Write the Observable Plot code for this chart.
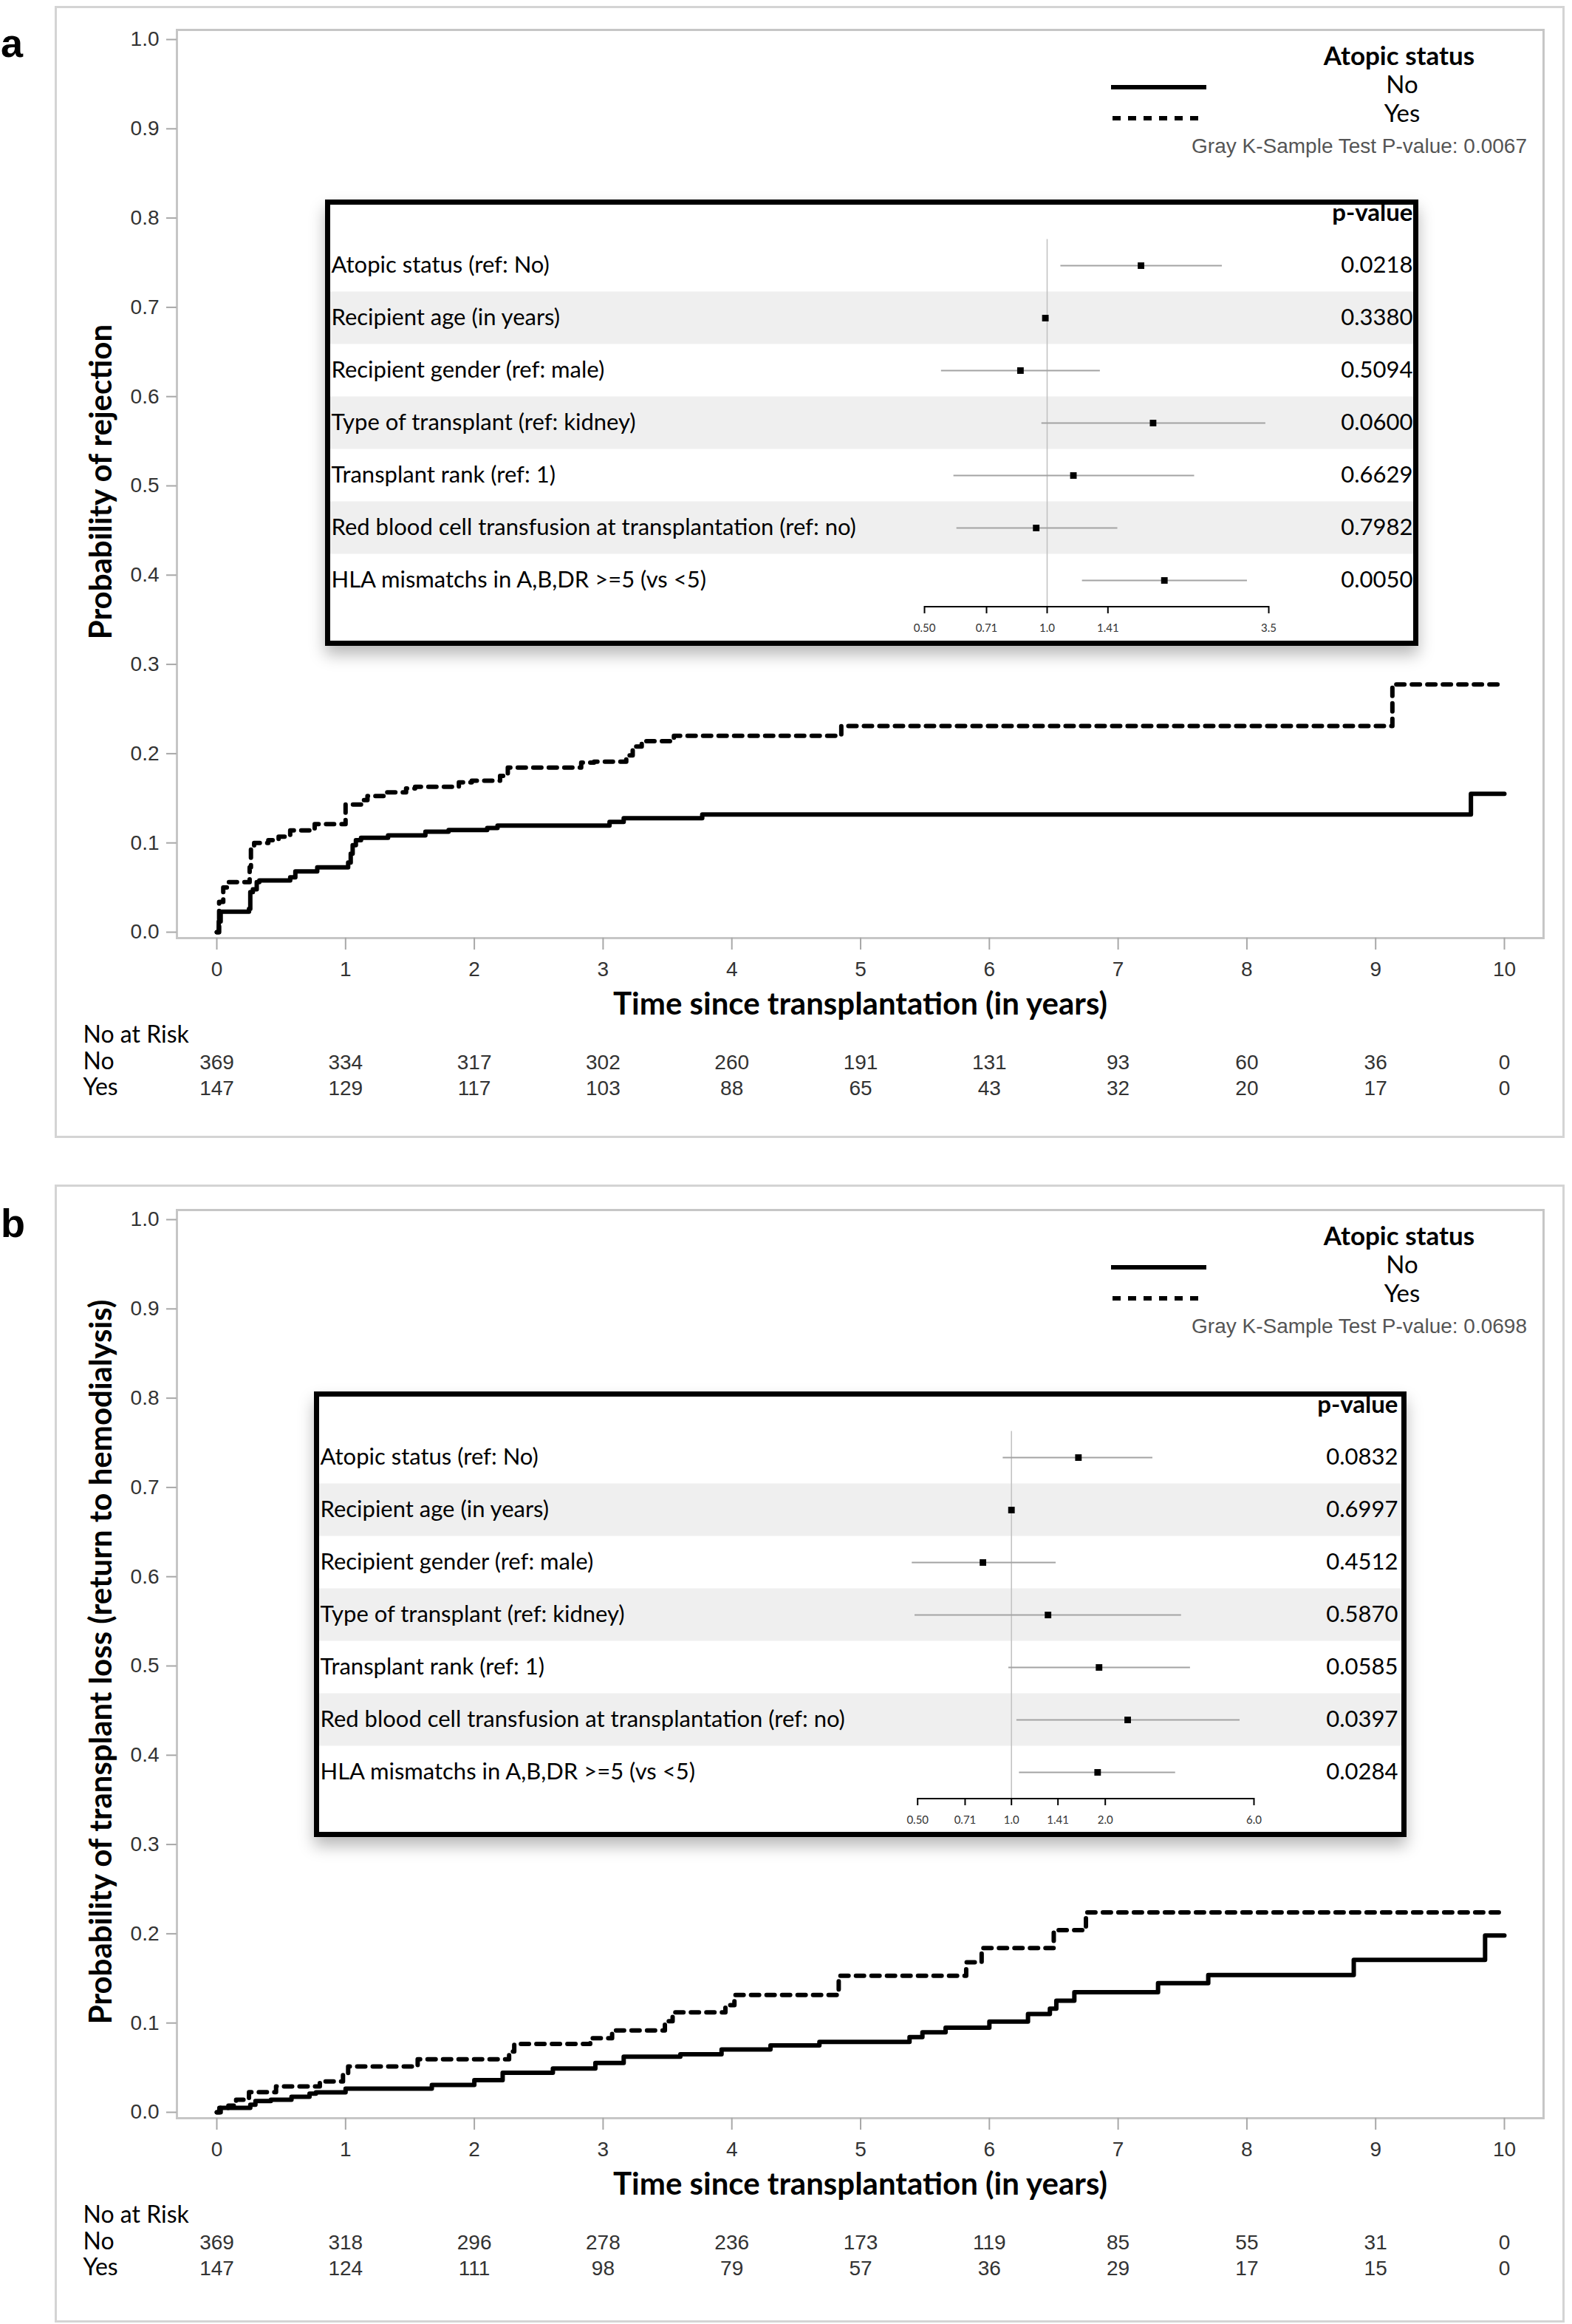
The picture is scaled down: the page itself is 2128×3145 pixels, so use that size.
<!DOCTYPE html>
<html><head><meta charset="utf-8">
<script src="https://cdn.jsdelivr.net/npm/d3@7"></script>
<script src="https://cdn.jsdelivr.net/npm/@observablehq/plot@0.6"></script>
<style>
html,body{margin:0;padding:0;background:#fff;}
#root{position:relative;width:2128px;height:3145px;overflow:hidden;background:#fff;}
.abs{position:absolute;}
</style></head><body><div id="root"></div>
<script>
// ---------- data ----------
const years = [0,1,2,3,4,5,6,7,8,9,10];
const probTicks = [0,0.1,0.2,0.3,0.4,0.5,0.6,0.7,0.8,0.9,1.0];
const groups = ["No","Yes"];
const xTitle = "Time since transplantation (in years)";
const legendTitle = "Atopic status";
const riskTitle = "No at Risk";

// panel a: rejection
const aYTitle = "Probability of rejection";
const aTest = "Gray K-Sample Test P-value: 0.0067";
const aNoT = [0,0.015,0.03,0.25,0.26,0.28,0.31,0.33,0.57,0.61,0.78,1.02,1.04,1.055,1.08,1.12,1.33,1.62,1.8,2.1,2.18,3.05,3.16,3.77,9.74,10.0];
const aNoP = [0,0.012,0.023,0.026,0.045,0.048,0.056,0.058,0.0615,0.068,0.0726,0.078,0.088,0.0975,0.103,0.1057,0.1085,0.1126,0.1145,0.1167,0.1195,0.1236,0.1277,0.1319,0.155,0.155];
const aYesT = [0,0.018,0.05,0.09,0.255,0.265,0.29,0.4,0.48,0.57,0.76,1.0,1.12,1.17,1.32,1.47,1.54,1.88,1.98,2.2,2.26,2.83,2.93,3.18,3.23,3.3,3.55,4.85,9.13,10.0];
const aYesP = [0,0.034,0.05,0.056,0.0726,0.0946,0.1,0.103,0.107,0.114,0.121,0.143,0.148,0.1526,0.1567,0.161,0.1628,0.1678,0.1697,0.175,0.1843,0.19,0.191,0.198,0.208,0.214,0.22,0.231,0.2776,0.2776];
const aRiskNo = [369,334,317,302,260,191,131,93,60,36,0];
const aRiskYes = [147,129,117,103,88,65,43,32,20,17,0];

// panel b: transplant loss
const bYTitle = "Probability of transplant loss (return to hemodialysis)";
const bTest = "Gray K-Sample Test P-value: 0.0698";
const bNoT = [0,0.03,0.26,0.3,0.42,0.58,0.72,0.77,1.0,1.67,2.0,2.22,2.61,2.94,3.16,3.6,3.92,4.3,4.68,5.38,5.48,5.66,6.0,6.3,6.47,6.52,6.66,7.31,7.7,8.83,9.85,10.0];
const bNoP = [0,0.005,0.0085,0.0127,0.014,0.0174,0.021,0.0224,0.0265,0.0307,0.036,0.0443,0.049,0.0553,0.0622,0.065,0.0704,0.075,0.0788,0.0842,0.0896,0.0947,0.1016,0.11,0.116,0.125,0.1345,0.1447,0.1538,0.1708,0.198,0.198];
const bYesT = [0,0.02,0.09,0.15,0.25,0.46,0.8,0.98,1.02,1.56,2.27,2.31,2.9,3.07,3.48,3.54,3.95,4.02,4.83,5.82,5.94,6.5,6.75,10.0];
const bYesP = [0,0.005,0.0075,0.014,0.0225,0.029,0.0346,0.043,0.0513,0.0594,0.068,0.0765,0.0829,0.0916,0.102,0.112,0.12,0.1315,0.153,0.168,0.184,0.204,0.224,0.224];
const bRiskNo = [369,318,296,278,236,173,119,85,55,31,0];
const bRiskYes = [147,124,111,98,79,57,36,29,17,15,0];

// forest plots
const covariates = [
  "Atopic status (ref: No)",
  "Recipient age (in years)",
  "Recipient gender (ref: male)",
  "Type of transplant (ref: kidney)",
  "Transplant rank (ref: 1)",
  "Red blood cell transfusion at transplantation (ref: no)",
  "HLA mismatchs in A,B,DR >=5 (vs <5)"
];
const pHeader = "p-value";
const aHR = [1.70,0.99,0.86,1.82,1.16,0.94,1.94];
const aLo = [1.08,0.98,0.55,0.97,0.59,0.60,1.22];
const aHi = [2.69,1.01,1.35,3.44,2.30,1.49,3.10];
const aPval = ["0.0218","0.3380","0.5094","0.0600","0.6629","0.7982","0.0050"];
const aHrTicks = [0.5,0.71,1.0,1.41,3.5];
const aHrTickLabels = ["0.50","0.71","1.0","1.41","3.5"];
const bHR = [1.64,1.00,0.81,1.31,1.91,2.36,1.89];
const bLo = [0.94,0.99,0.48,0.49,0.98,1.04,1.06];
const bHi = [2.84,1.01,1.39,3.51,3.75,5.41,3.36];
const bPval = ["0.0832","0.6997","0.4512","0.5870","0.0585","0.0397","0.0284"];
const bHrTicks = [0.5,0.71,1.0,1.41,2.0,6.0];
const bHrTickLabels = ["0.50","0.71","1.0","1.41","2.0","6.0"];

// ---------- drawing ----------
const ARIAL = "'Liberation Sans', Arial, Helvetica, sans-serif";
const CAL = "Lato, 'Open Sans', sans-serif";
const root = document.getElementById("root");

function km(cfg) {
  const rows = (T, P) => T.map((t, i) => ({t, p: P[i]}));
  const risk = arr => years.map((t, i) => ({t, n: String(arr[i])}));
  const lbl = {fontFamily: CAL, fill: "#000", frameAnchor: "bottom-left", textAnchor: "start", dx: -127, fontSize: 32, text: d => d};
  return Plot.plot({
    width: 2128, height: 1548,
    marginLeft: 239, marginRight: 39, marginTop: 40, marginBottom: 279,
    x: {domain: [0, 10], range: [293, 2036], label: null},
    y: {domain: [0, 1], range: [1261, 53], label: null},
    style: {background: "transparent", fontFamily: ARIAL, overflow: "visible"},
    marks: [
      Plot.frame({stroke: "#c6c6c6", strokeWidth: 3}),
      Plot.axisY({ticks: probTicks, tickFormat: d3.format(".1f"), tickSize: 14, tickPadding: 10, fontSize: 28, stroke: "#a8a8a8", strokeWidth: 2, fill: "#333", label: null}),
      Plot.axisX({ticks: years, tickFormat: d3.format("d"), tickSize: 16, tickPadding: 16, fontSize: 28, stroke: "#a8a8a8", strokeWidth: 2, fill: "#333", label: null}),
      Plot.line(rows(cfg.noT, cfg.noP), {x: "t", y: "p", curve: "step-after", stroke: "#000", strokeWidth: 6}),
      Plot.line(rows(cfg.yesT, cfg.yesP), {x: "t", y: "p", curve: "step-after", stroke: "#000", strokeWidth: 6, strokeDasharray: "11,10"}),
      Plot.text([xTitle], {text: d => d, frameAnchor: "bottom", textAnchor: "middle", dy: 103, fontFamily: CAL, fontWeight: "bold", fontSize: 42, fill: "#000"}),
      Plot.text([cfg.yTitle], {text: d => d, frameAnchor: "left", textAnchor: "middle", rotate: -90, dx: -102, dy: -3, fontFamily: CAL, fontWeight: "bold", fontSize: 42, fill: "#000"}),
      Plot.text([riskTitle], {...lbl, dy: 141}),
      Plot.text([groups[0]], {...lbl, dy: 177}),
      Plot.text([groups[1]], {...lbl, dy: 212}),
      Plot.text(risk(cfg.riskNo), {x: "t", text: "n", frameAnchor: "bottom", dy: 177, fontSize: 28, fill: "#333"}),
      Plot.text(risk(cfg.riskYes), {x: "t", text: "n", frameAnchor: "bottom", dy: 212, fontSize: 28, fill: "#333"})
    ]
  });
}

function forest(cfg) {
  const rows = covariates.map((label, i) => ({i, label, hr: cfg.hr[i], lo: cfg.lo[i], hi: cfg.hi[i], p: cfg.pval[i]}));
  const T = cfg.ticks, L = cfg.tickLabels;
  const W = cfg.box.w, H = cfg.box.h;
  const px = v => cfg.c + cfg.u * Math.log2(v);
  return Plot.plot({
    width: W, height: H,
    marginLeft: 7, marginRight: 7, marginTop: 7, marginBottom: H - 550,
    x: {type: "log", domain: [T[0], T[T.length - 1]], range: [px(T[0]), px(T[T.length - 1])], label: null},
    y: {domain: [-0.5, 6.5], range: [53.5, 550.5], axis: null, label: null},
    style: {background: "transparent", fontFamily: CAL, overflow: "visible"},
    marks: [
      Plot.rect(rows.filter(d => d.i % 2 === 1), {y1: d => d.i - 0.5, y2: d => d.i + 0.5, fill: "#efefef"}),
      Plot.ruleX([1], {y1: -0.5, y2: 6.5, stroke: "#c0c0c0", strokeWidth: 1.5}),
      Plot.ruleY(rows, {y: "i", x1: "lo", x2: "hi", stroke: "#a3a3a3", strokeWidth: 2}),
      Plot.dot(rows, {x: "hr", y: "i", symbol: "square", r: 5, fill: "#000", stroke: "none"}),
      Plot.text(rows, {y: "i", text: "label", frameAnchor: "left", textAnchor: "start", dx: 1, fontSize: 31, fill: "#000"}),
      Plot.text(rows, {y: "i", text: "p", frameAnchor: "right", textAnchor: "end", dx: cfg.pdx, fontSize: 31, fill: "#000"}),
      Plot.text([pHeader], {y: () => -1, text: d => d, frameAnchor: "right", textAnchor: "end", dx: cfg.pdx, fontSize: 33, fontWeight: "bold", fill: "#000"}),
      Plot.ruleY([6.5], {x1: T[0], x2: T[T.length - 1], stroke: "#000", strokeWidth: 2}),
      Plot.axisX({anchor: "bottom", ticks: T, tickFormat: d => L[T.indexOf(d)], tickSize: 10, tickPadding: 14, fontSize: 15, stroke: "#000", strokeWidth: 2, fill: "#333", label: null})
    ]
  });
}

function panel(cfg) {
  const p = document.createElement("div");
  p.className = "abs";
  p.style.cssText = `left:0;top:${cfg.top}px;width:2128px;height:1548px;`;
  root.appendChild(p);

  const frame = document.createElement("div");
  frame.className = "abs";
  frame.style.cssText = `left:74px;top:${cfg.frameTop}px;width:2044px;height:${cfg.frameH}px;border:3px solid #d4d4d4;box-sizing:border-box;`;
  p.appendChild(frame);

  const svgKM = km(cfg);
  svgKM.classList.add("abs");
  svgKM.style.left = "0px"; svgKM.style.top = "0px";
  p.appendChild(svgKM);

  // legend + panel letter
  const ns = "http://www.w3.org/2000/svg";
  const ov = document.createElementNS(ns, "svg");
  ov.setAttribute("width", 2128); ov.setAttribute("height", 260);
  ov.setAttribute("class", "abs");
  ov.style.left = "0px"; ov.style.top = "0px";
  const add = (tag, attrs, txt) => {
    const e = document.createElementNS(ns, tag);
    for (const k in attrs) e.setAttribute(k, attrs[k]);
    if (txt !== undefined) e.textContent = txt;
    ov.appendChild(e); return e;
  };
  add("text", {x: 1, y: 77, "font-family": ARIAL, "font-weight": "bold", "font-size": 54, fill: "#000"}, cfg.letter);
  add("text", {x: 1894, y: 74, "text-anchor": "middle", "dominant-baseline": "central", "font-family": CAL, "font-weight": "bold", "font-size": 35, fill: "#000"}, legendTitle);
  add("line", {x1: 1504, x2: 1633, y1: 118, y2: 118, stroke: "#000", "stroke-width": 6});
  add("text", {x: 1898, y: 113, "text-anchor": "middle", "dominant-baseline": "central", "font-family": CAL, "font-size": 33, fill: "#000"}, groups[0]);
  add("line", {x1: 1506, x2: 1622, y1: 160, y2: 160, stroke: "#000", "stroke-width": 6, "stroke-dasharray": "11,10"});
  add("text", {x: 1898, y: 152, "text-anchor": "middle", "dominant-baseline": "central", "font-family": CAL, "font-size": 33, fill: "#000"}, groups[1]);
  add("text", {x: 2067, y: 197, "text-anchor": "end", "dominant-baseline": "central", "font-family": ARIAL, "font-size": 28, fill: "#555"}, cfg.test);
  p.appendChild(ov);

  const box = document.createElement("div");
  box.className = "abs";
  box.style.cssText = `left:${cfg.box.x}px;top:${cfg.box.y}px;width:${cfg.box.w}px;height:${cfg.box.h}px;border:7px solid #000;box-sizing:border-box;background:#fff;box-shadow:0 12px 20px rgba(0,0,0,0.28);`;
  p.appendChild(box);

  const svgF = forest(cfg);
  svgF.classList.add("abs");
  svgF.style.left = cfg.box.x + "px"; svgF.style.top = cfg.box.y + "px";
  p.appendChild(svgF);
}

panel({
  top: 0, frameTop: 8, frameH: 1532, letter: "a",
  yTitle: aYTitle, test: aTest,
  noT: aNoT, noP: aNoP, yesT: aYesT, yesP: aYesP, riskNo: aRiskNo, riskYes: aRiskYes,
  hr: aHR, lo: aLo, hi: aHi, pval: aPval, ticks: aHrTicks, tickLabels: aHrTickLabels,
  box: {x: 440, y: 270, w: 1480, h: 604}, c: 977, u: 166, pdx: -1
});
panel({
  top: 1597, frameTop: 6, frameH: 1540, letter: "b",
  yTitle: bYTitle, test: bTest,
  noT: bNoT, noP: bNoP, yesT: bYesT, yesP: bYesP, riskNo: bRiskNo, riskYes: bRiskYes,
  hr: bHR, lo: bLo, hi: bHi, pval: bPval, ticks: bHrTicks, tickLabels: bHrTickLabels,
  box: {x: 425, y: 286, w: 1479, h: 603}, c: 943.7, u: 127, pdx: -5
});
</script></body></html>
